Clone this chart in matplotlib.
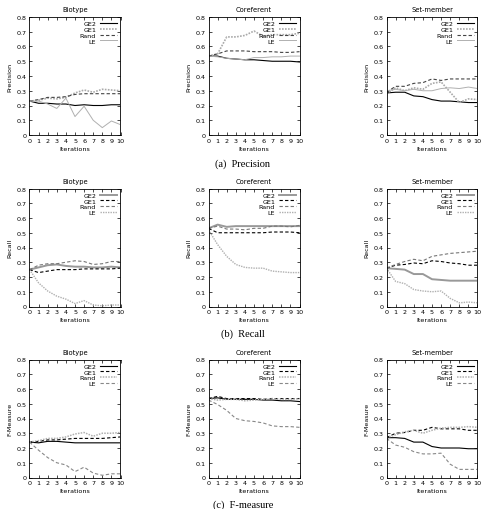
import numpy as np
import matplotlib
matplotlib.use("Agg")
import matplotlib.pyplot as plt

iterations = list(range(11))
datasets = ["Biotype", "Coreferent", "Set-member"]
methods = ["GE2", "GE1", "Rand", "LE"]
metrics = ["Precision", "Recall", "F-Measure"]
captions = ["(a)  Precision", "(b)  Recall", "(c)  F-measure"]

# precision
prec_biotype = {
    "GE2": [0.23, 0.215, 0.215, 0.21, 0.21, 0.20, 0.205, 0.20, 0.20, 0.205, 0.205],
    "GE1": [0.23, 0.235, 0.25, 0.245, 0.255, 0.285, 0.305, 0.29, 0.31, 0.305, 0.30],
    "Rand": [0.23, 0.24, 0.255, 0.255, 0.26, 0.275, 0.28, 0.28, 0.28, 0.28, 0.28],
    "LE": [0.23, 0.23, 0.21, 0.18, 0.25, 0.125, 0.195, 0.10, 0.05, 0.095, 0.07],
}
prec_coref = {
    "GE2": [0.535, 0.535, 0.52, 0.515, 0.51, 0.51, 0.505, 0.50, 0.50, 0.50, 0.495],
    "GE1": [0.535, 0.55, 0.665, 0.665, 0.675, 0.705, 0.67, 0.68, 0.68, 0.68, 0.69],
    "Rand": [0.535, 0.55, 0.57, 0.57, 0.57, 0.565, 0.565, 0.565, 0.56, 0.56, 0.565],
    "LE": [0.535, 0.53, 0.52, 0.515, 0.51, 0.525, 0.525, 0.53, 0.53, 0.535, 0.535],
}
prec_setm = {
    "GE2": [0.285, 0.29, 0.29, 0.265, 0.26, 0.24, 0.23, 0.23, 0.225, 0.22, 0.22],
    "GE1": [0.28, 0.32, 0.30, 0.32, 0.31, 0.35, 0.36, 0.29, 0.22, 0.245, 0.24],
    "Rand": [0.29, 0.33, 0.33, 0.35, 0.355, 0.38, 0.37, 0.38, 0.38, 0.38, 0.38],
    "LE": [0.30, 0.31, 0.30, 0.31, 0.30, 0.30, 0.315, 0.32, 0.315, 0.325, 0.315],
}

# recall
rec_biotype = {
    "GE2": [0.25, 0.265, 0.28, 0.285, 0.275, 0.27, 0.27, 0.265, 0.265, 0.27, 0.265],
    "GE1": [0.25, 0.23, 0.24, 0.25, 0.25, 0.25, 0.255, 0.255, 0.255, 0.255, 0.26],
    "Rand": [0.25, 0.28, 0.29, 0.29, 0.30, 0.31, 0.305, 0.285, 0.29, 0.305, 0.305],
    "LE": [0.25, 0.16, 0.105, 0.07, 0.05, 0.02, 0.04, 0.01, 0.005, 0.01, 0.01],
}
rec_coref = {
    "GE2": [0.53, 0.555, 0.54, 0.545, 0.545, 0.545, 0.545, 0.545, 0.545, 0.545, 0.545],
    "GE1": [0.53, 0.50, 0.50, 0.50, 0.50, 0.50, 0.50, 0.505, 0.505, 0.505, 0.50],
    "Rand": [0.53, 0.545, 0.525, 0.525, 0.52, 0.53, 0.53, 0.545, 0.545, 0.54, 0.55],
    "LE": [0.52, 0.42, 0.34, 0.285, 0.265, 0.26, 0.26, 0.24, 0.235, 0.23, 0.23],
}
rec_setm = {
    "GE2": [0.26, 0.255, 0.25, 0.22, 0.22, 0.185, 0.18, 0.175, 0.175, 0.175, 0.175],
    "GE1": [0.26, 0.28, 0.285, 0.295, 0.29, 0.31, 0.305, 0.295, 0.29, 0.28, 0.28],
    "Rand": [0.26, 0.285, 0.305, 0.32, 0.31, 0.34, 0.35, 0.36, 0.365, 0.37, 0.375],
    "LE": [0.26, 0.17, 0.155, 0.115, 0.105, 0.10, 0.105, 0.055, 0.025, 0.03, 0.025],
}

# f-measure
f_biotype = {
    "GE2": [0.24, 0.235, 0.245, 0.245, 0.24, 0.235, 0.235, 0.235, 0.235, 0.235, 0.235],
    "GE1": [0.24, 0.245, 0.255, 0.255, 0.26, 0.265, 0.265, 0.265, 0.265, 0.27, 0.275],
    "Rand": [0.24, 0.25, 0.265, 0.265, 0.275, 0.295, 0.305, 0.28, 0.30, 0.30, 0.305],
    "LE": [0.24, 0.185, 0.135, 0.10, 0.085, 0.04, 0.07, 0.03, 0.015, 0.025, 0.025],
}
f_coref = {
    "GE2": [0.535, 0.54, 0.53, 0.53, 0.53, 0.53, 0.525, 0.525, 0.52, 0.52, 0.515],
    "GE1": [0.535, 0.55, 0.535, 0.535, 0.535, 0.535, 0.53, 0.535, 0.535, 0.535, 0.535],
    "Rand": [0.535, 0.525, 0.53, 0.53, 0.52, 0.525, 0.53, 0.535, 0.53, 0.53, 0.535],
    "LE": [0.525, 0.495, 0.455, 0.40, 0.385, 0.38, 0.37, 0.35, 0.345, 0.345, 0.34],
}
f_setm = {
    "GE2": [0.27, 0.27, 0.265, 0.24, 0.24, 0.21, 0.20, 0.20, 0.20, 0.195, 0.195],
    "GE1": [0.27, 0.30, 0.305, 0.32, 0.32, 0.34, 0.33, 0.33, 0.33, 0.32, 0.32],
    "Rand": [0.27, 0.29, 0.31, 0.32, 0.30, 0.32, 0.335, 0.34, 0.34, 0.345, 0.34],
    "LE": [0.265, 0.22, 0.205, 0.175, 0.16, 0.16, 0.165, 0.09, 0.055, 0.055, 0.055],
}

grid = [
    [prec_biotype, prec_coref, prec_setm],
    [rec_biotype, rec_coref, rec_setm],
    [f_biotype, f_coref, f_setm],
]

# gnuplot-ish line styles, they differ per row in the original
row_styles = [
    {"GE2": dict(color="black", ls="-", lw=0.8),
     "GE1": dict(color="#aaaaaa", ls=(0, (1, 0.8)), lw=1.2),
     "Rand": dict(color="#444444", ls=(0, (3, 2)), lw=0.8),
     "LE": dict(color="#b0b0b0", ls="-", lw=0.7)},
    {"GE2": dict(color="#999999", ls="-", lw=1.4),
     "GE1": dict(color="black", ls=(0, (3, 2)), lw=0.8),
     "Rand": dict(color="#777777", ls=(0, (3, 2)), lw=0.8),
     "LE": dict(color="#b0b0b0", ls=(0, (1, 0.8)), lw=1.0)},
    {"GE2": dict(color="black", ls="-", lw=0.8),
     "GE1": dict(color="black", ls=(0, (3, 2)), lw=0.8),
     "Rand": dict(color="#b0b0b0", ls=(0, (1, 0.8)), lw=1.1),
     "LE": dict(color="#888888", ls=(0, (3, 2)), lw=0.8)},
]

W, H = 485, 510
fig = plt.figure(figsize=(W / 100, H / 100), dpi=100)

col_left = [29.5, 208.5, 386.5]
row_top = [18, 189.5, 360.5]
ax_w, ax_h = 91, 118

fs = 4.6
for r in range(3):
    for c in range(3):
        left = col_left[c] / W
        bottom = 1 - (row_top[r] + ax_h) / H
        ax = fig.add_axes([left, bottom, ax_w / W, ax_h / H])
        data = grid[r][c]
        for m in methods:
            st = row_styles[r][m]
            ax.plot(iterations, data[m], label=m, color=st["color"],
                    linestyle=st["ls"], linewidth=st["lw"])
        ax.set_xlim(0, 10)
        ax.set_ylim(0, 0.8)
        ax.set_xticks(range(11))
        ax.set_yticks(np.arange(0, 0.81, 0.1))
        ax.set_yticklabels(["0"] + [f"{v:.1f}" for v in np.arange(0.1, 0.81, 0.1)])
        ax.tick_params(direction="in", top=True, right=True, length=2.5,
                       width=0.5, labelsize=fs, pad=2)
        for sp in ax.spines.values():
            sp.set_linewidth(0.6)
        ax.set_title(datasets[c], fontsize=fs + 0.3, pad=4)
        ax.set_ylabel(metrics[r], fontsize=fs, labelpad=3)
        ax.set_xlabel("Iterations", fontsize=fs, labelpad=2)
        ax.legend(loc="upper right", frameon=False, fontsize=fs, markerfirst=False,
                  handlelength=2.6, handletextpad=0.6, labelspacing=0.05,
                  borderaxespad=0.2)

    cap_y = [164, 334, 505][r]
    fig.text(243 / W, 1 - cap_y / H, captions[r], ha="center", va="center",
             fontsize=7.5, family="Liberation Serif")

fig.savefig("out.png", dpi=100)
